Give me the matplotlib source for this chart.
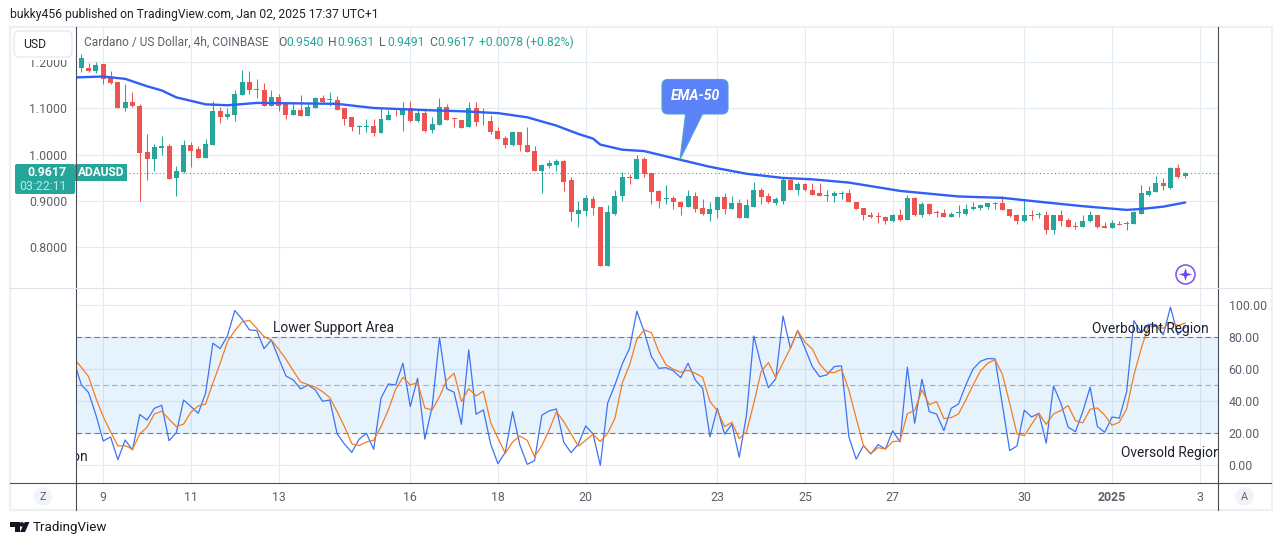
import matplotlib
matplotlib.use('Agg')
import matplotlib.pyplot as plt
from matplotlib.patches import FancyBboxPatch, Polygon, Circle, Rectangle

plt.rcParams['font.family'] = ['Roboto', 'DejaVu Sans']

# 4h candles
opens = [1.187, 1.188, 1.182, 1.195, 1.165, 1.158, 1.102, 1.115, 1.106, 1.005, 0.990, 1.014, 1.020, 0.949, 0.963, 1.022,
         1.012, 0.994, 1.022, 1.095, 1.081, 1.087, 1.130, 1.158, 1.141, 1.141, 1.106, 1.124, 1.109, 1.087, 1.096, 1.083,
         1.102, 1.122, 1.118, 1.119, 1.100, 1.081, 1.060, 1.061, 1.063, 1.048, 1.076, 1.087, 1.085, 1.100, 1.072, 1.091,
         1.053, 1.065, 1.104, 1.079, 1.076, 1.059, 1.100, 1.072, 1.074, 1.052, 1.037, 1.022, 1.050, 1.022, 1.009, 0.966,
         0.975, 0.979, 0.986, 0.945, 0.873, 0.878, 0.904, 0.888, 0.759, 0.873, 0.910, 0.951, 0.947, 0.990, 0.960, 0.921,
         0.904, 0.906, 0.899, 0.888, 0.912, 0.886, 0.873, 0.880, 0.908, 0.882, 0.895, 0.863, 0.888, 0.925, 0.910, 0.895,
         0.901, 0.945, 0.923, 0.936, 0.925, 0.917, 0.911, 0.910, 0.915, 0.917, 0.899, 0.886, 0.871, 0.866, 0.865, 0.858,
         0.869, 0.860, 0.906, 0.871, 0.893, 0.876, 0.875, 0.865, 0.875, 0.873, 0.882, 0.886, 0.888, 0.894, 0.895, 0.882,
         0.869, 0.856, 0.871, 0.871, 0.869, 0.837, 0.869, 0.860, 0.847, 0.843, 0.856, 0.869, 0.847, 0.841, 0.850, 0.851,
         0.850, 0.873, 0.914, 0.919, 0.940, 0.929, 0.971, 0.9540]
highs = [1.218, 1.199, 1.201, 1.195, 1.180, 1.158, 1.152, 1.135, 1.109, 1.044, 1.024, 1.040, 1.024, 0.975, 1.031, 1.027,
         1.020, 1.035, 1.117, 1.104, 1.100, 1.141, 1.184, 1.180, 1.163, 1.156, 1.139, 1.132, 1.112, 1.109, 1.130, 1.112,
         1.124, 1.130, 1.135, 1.126, 1.102, 1.081, 1.065, 1.078, 1.078, 1.100, 1.096, 1.096, 1.113, 1.117, 1.096, 1.097,
         1.081, 1.122, 1.109, 1.080, 1.076, 1.113, 1.113, 1.100, 1.085, 1.061, 1.040, 1.052, 1.050, 1.059, 1.018, 0.981,
         0.988, 0.990, 0.988, 0.951, 0.901, 0.914, 0.910, 0.888, 0.891, 0.923, 0.962, 0.959, 0.999, 0.996, 0.960, 0.923,
         0.934, 0.910, 0.901, 0.925, 0.919, 0.904, 0.899, 0.910, 0.917, 0.910, 0.904, 0.904, 0.942, 0.929, 0.917, 0.908,
         0.951, 0.949, 0.942, 0.940, 0.940, 0.940, 0.923, 0.921, 0.921, 0.927, 0.899, 0.886, 0.876, 0.876, 0.867, 0.873,
         0.882, 0.914, 0.908, 0.897, 0.895, 0.880, 0.882, 0.876, 0.891, 0.893, 0.899, 0.891, 0.895, 0.899, 0.910, 0.882,
         0.873, 0.904, 0.880, 0.876, 0.878, 0.871, 0.880, 0.863, 0.854, 0.871, 0.878, 0.869, 0.854, 0.860, 0.858, 0.856,
         0.878, 0.934, 0.932, 0.955, 0.949, 0.973, 0.981, 0.9631]
lows = [1.178, 1.178, 1.176, 1.152, 1.153, 1.100, 1.094, 1.104, 0.901, 0.945, 0.966, 0.999, 0.947, 0.910, 0.960, 0.973,
        0.994, 0.994, 1.022, 1.068, 1.078, 1.074, 1.130, 1.132, 1.122, 1.106, 1.106, 1.094, 1.078, 1.085, 1.083, 1.083,
        1.102, 1.109, 1.106, 1.096, 1.065, 1.052, 1.044, 1.050, 1.040, 1.048, 1.076, 1.083, 1.052, 1.070, 1.070, 1.050,
        1.048, 1.065, 1.076, 1.061, 1.057, 1.059, 1.063, 1.065, 1.044, 1.035, 1.014, 1.018, 1.009, 1.007, 0.964, 0.917,
        0.972, 0.964, 0.921, 0.856, 0.845, 0.867, 0.871, 0.759, 0.759, 0.869, 0.901, 0.936, 0.947, 0.951, 0.893, 0.886,
        0.893, 0.882, 0.869, 0.888, 0.876, 0.871, 0.858, 0.863, 0.873, 0.882, 0.863, 0.863, 0.888, 0.893, 0.895, 0.891,
        0.893, 0.923, 0.914, 0.921, 0.914, 0.910, 0.901, 0.899, 0.904, 0.897, 0.882, 0.860, 0.863, 0.852, 0.850, 0.854,
        0.856, 0.860, 0.867, 0.865, 0.869, 0.865, 0.865, 0.865, 0.865, 0.871, 0.880, 0.880, 0.882, 0.884, 0.880, 0.865,
        0.850, 0.854, 0.860, 0.863, 0.828, 0.828, 0.847, 0.845, 0.839, 0.843, 0.854, 0.841, 0.841, 0.841, 0.848, 0.837,
        0.850, 0.873, 0.910, 0.919, 0.923, 0.927, 0.949, 0.9491]
closes = [1.210, 1.182, 1.194, 1.163, 1.156, 1.101, 1.114, 1.105, 1.003, 0.990, 1.016, 1.020, 0.947, 0.965, 1.022, 1.009,
          0.994, 1.024, 1.095, 1.081, 1.089, 1.132, 1.158, 1.139, 1.140, 1.106, 1.124, 1.106, 1.087, 1.096, 1.083, 1.104,
          1.122, 1.115, 1.119, 1.096, 1.078, 1.059, 1.061, 1.062, 1.046, 1.078, 1.087, 1.085, 1.100, 1.072, 1.091, 1.052,
          1.067, 1.104, 1.076, 1.078, 1.058, 1.100, 1.070, 1.074, 1.050, 1.035, 1.022, 1.050, 1.022, 1.007, 0.966, 0.977,
          0.983, 0.986, 0.942, 0.876, 0.880, 0.906, 0.886, 0.759, 0.876, 0.912, 0.951, 0.949, 0.990, 0.958, 0.919, 0.901,
          0.906, 0.897, 0.888, 0.912, 0.884, 0.873, 0.882, 0.908, 0.882, 0.895, 0.863, 0.891, 0.925, 0.908, 0.897, 0.904,
          0.945, 0.923, 0.936, 0.923, 0.914, 0.910, 0.912, 0.917, 0.917, 0.897, 0.883, 0.869, 0.865, 0.865, 0.858, 0.869,
          0.860, 0.906, 0.871, 0.893, 0.873, 0.875, 0.865, 0.873, 0.876, 0.882, 0.888, 0.891, 0.895, 0.895, 0.880, 0.867,
          0.856, 0.871, 0.867, 0.872, 0.837, 0.869, 0.858, 0.845, 0.843, 0.856, 0.869, 0.845, 0.841, 0.852, 0.848, 0.853,
          0.876, 0.917, 0.921, 0.940, 0.932, 0.971, 0.953, 0.9617]

ema_bars = [-1, 3, 6, 9, 11, 13, 17, 20, 24, 30, 35, 40, 48, 52, 57, 61, 63, 65, 68, 70, 71, 74, 77, 82, 86, 91, 96, 100,
            105, 112, 120, 126, 132, 137, 143, 145, 148, 151]
ema_vals = [1.167, 1.169, 1.164, 1.148, 1.139, 1.124, 1.109, 1.107, 1.112, 1.111, 1.110, 1.101, 1.096, 1.094, 1.090,
            1.081, 1.072, 1.063, 1.045, 1.035, 1.022, 1.011, 1.008, 0.989, 0.974, 0.959, 0.950, 0.947, 0.940, 0.922,
            0.910, 0.907, 0.897, 0.889, 0.881, 0.883, 0.888, 0.897]

# stochastic, first value sits just left of the axis
stoch_k = [65, 50.4, 45.4, 31.5, 15.2, 17.7, 3.5, 15.8, 9.6, 31.7, 28.3, 35.6, 37.5, 15.4, 20.4, 40.8, 36.7, 32.5, 45,
           76.3, 72.9, 81, 96.7, 91.3, 84.6, 84.2, 72.9, 78.3, 66.9, 55.8, 53.3, 47.7, 50.2, 47.1, 40, 40.8, 19.6, 13.3,
           8.1, 16.3, 20, 10, 41.9, 50.8, 50.2, 63.8, 36.7, 54.4, 16.3, 36.7, 79.8, 47.9, 45.6, 25.6, 72.1, 31.9, 34.6,
           13.3, 1, 8.1, 33.5, 12.7, 0.6, 2.9, 31.3, 34, 35.2, 14.4, 7.9, 13.3, 24.6, 19.6, 0, 38.8, 50.2, 63.3, 73.1,
           96.3, 83.5, 67.9, 60.6, 61, 59, 54.8, 63.8, 53.3, 48.1, 17.7, 35.6, 19.4, 25.8, 5, 31.5, 80.8, 62.7, 48.5, 54,
           93.3, 73.1, 84.2, 73.1, 61.7, 55.4, 56.5, 61.7, 62.1, 17.9, 3.8, 12.3, 7.1, 12.9, 10.2, 21.5, 14.6, 61.3, 26.3,
           53.8, 33.5, 32, 21.7, 35.6, 38.3, 50.2, 60.2, 65, 66.7, 66.5, 37.7, 9.2, 12.1, 34.4, 30.2, 32.5, 13.8, 49.6,
           38.8, 23.8, 21, 33.5, 48.8, 24.2, 20.6, 30.2, 29.4, 46, 90.4, 82.9, 88.1, 87.9, 81.5, 98.8, 81.5, 86.3]
stoch_d = [66.5, 61.3, 55.4, 41.9, 30.4, 21, 12.1, 12.3, 10, 19.6, 23.8, 32.1, 33.8, 28.8, 24.2, 25.8, 33.3, 37.1, 38.3,
           51.3, 63.8, 77.3, 84.2, 89.6, 90.6, 85.6, 80.4, 78.3, 72.5, 66.3, 59, 52.1, 50.4, 48.8, 46, 42.3, 33.5, 24.2,
           13.5, 12.3, 14.6, 15.6, 24.2, 34.6, 47.5, 55, 50.2, 51.7, 35.8, 34.6, 42.9, 53.3, 57.5, 39.8, 47.9, 43.3, 46.3,
           26.7, 16.9, 7.5, 14.6, 18.3, 15.6, 5.4, 12.3, 22, 33.5, 27.3, 19.6, 11.9, 15.6, 19.4, 14.8, 20, 29.4, 51.3, 62.7,
           78.8, 84.6, 82.9, 71, 62.7, 60, 58.1, 59.4, 57.5, 55, 39.8, 34.2, 24.2, 26.9, 16.7, 21, 38.8, 58.5, 64.2, 54.8,
           64.2, 73.1, 84.2, 76.9, 72.7, 63.3, 58.1, 57.9, 60, 47.1, 29.4, 12.3, 7.3, 11, 10.2, 14.8, 15.2, 32.3, 34.2,
           47.1, 37.9, 39.8, 29.2, 29.8, 32.1, 40.8, 50.2, 59, 63.8, 66, 56.9, 38.8, 19.6, 18.5, 25.6, 32.5, 25.6, 32.1,
           34.2, 37.3, 27.9, 26.5, 35, 35.8, 31.3, 25, 26.9, 35.2, 56.5, 73.1, 87.1, 86.7, 85.6, 89.4, 87.3, 88.8]

date_bars = [3, 15, 27, 45, 57, 69, 87, 99, 111, 129, 141, 153]
date_labels = ['9', '11', '13', '16', '18', '20', '23', '25', '27', '30', '2025', '3']
price_ticks = [0.8, 0.9, 1.0, 1.1, 1.2]
stoch_ticks = [0, 20, 40, 60, 80, 100]
last_price = 0.9617

GREEN = '#26a69a'
RED = '#ef5350'
GRID = '#e3ebf2'
AXIS = '#4a4c57'
LABEL = '#5d606b'

W, H = 1281, 545
fig = plt.figure(figsize=(W / 100, H / 100), dpi=100, facecolor='white')


def pane(left, top, right, bottom):
    return fig.add_axes([left / W, 1 - bottom / H, (right - left) / W, (bottom - top) / H])


ax1 = pane(75.5, 27.5, 1217.5, 287.5)
ax2 = pane(75.5, 287.5, 1217.5, 482.5)
xlim = (-0.793, 155.43)

for ax in (ax1, ax2):
    ax.set_xlim(*xlim)
    ax.set_xticks(date_bars)
    ax.grid(True, color=GRID, lw=0.8)
    ax.set_axisbelow(True)
    for s in ax.spines.values():
        s.set_visible(False)
    ax.tick_params(length=0, labelsize=8.9, labelcolor=LABEL)

# price pane
ax1.set_ylim(0.7134, 1.2749)
ax1.set_yticks(price_ticks)
ax1.set_yticklabels(['%.4f' % p for p in price_ticks])
ax1.tick_params(axis='y', pad=6)
ax1.tick_params(axis='x', labelbottom=False)

bars = list(range(len(opens)))
colors = [GREEN if c >= o else RED for o, c in zip(opens, closes)]
ax1.vlines(bars, lows, highs, colors=colors, lw=0.75, zorder=3)
bodies = [max(abs(c - o), 0.0018) for o, c in zip(opens, closes)]
ax1.bar(bars, bodies, bottom=[min(o, c) for o, c in zip(opens, closes)], width=0.68, color=colors, lw=0, zorder=3)
ax1.plot(ema_bars, ema_vals, color='#2f5ff5', lw=1.7, zorder=4, solid_capstyle='round')
ax1.axhline(last_price, color=GREEN, lw=0.8, ls=(0, (1, 2.4)), zorder=2)

# stochastic pane
ax2.set_ylim(-10.75, 111.1)
ax2.yaxis.tick_right()
ax2.set_yticks(stoch_ticks)
ax2.set_yticklabels(['%.2f' % v for v in stoch_ticks])
ax2.tick_params(axis='y', pad=8)
ax2.set_xticklabels(date_labels)
ax2.tick_params(axis='x', pad=6)
ax2.get_xticklabels()[10].set_fontweight('bold')
ax2.axhspan(20, 80, color='#2196f3', alpha=0.11, lw=0, zorder=1)
ax2.axhline(80, color='#787b86', lw=0.8, ls=(0, (5, 3)), zorder=2)
ax2.axhline(50, color='#a9acb5', lw=0.8, ls=(0, (5, 3)), zorder=2)
ax2.axhline(20, color='#787b86', lw=0.8, ls=(0, (5, 3)), zorder=2)
k_bars = list(range(-1, len(stoch_k) - 1))
ax2.plot(k_bars, stoch_k, color='#3f72f2', lw=0.9, zorder=3)
ax2.plot(k_bars, stoch_d, color='#f57c1f', lw=0.9, zorder=4)

# overlay in picture pixels for the TradingView chrome
ov = fig.add_axes([0, 0, 1, 1], zorder=10)
ov.set_xlim(0, W)
ov.set_ylim(H, 0)
ov.axis('off')
ov.patch.set_alpha(0)

ov.add_patch(Rectangle((10, 27), 1261.5, 482.5, fill=False, ec='#eef0f4', lw=1.6))
ov.plot([75.5, 75.5], [27, 510], color=AXIS, lw=0.8)
ov.plot([1217.5, 1217.5], [27, 510], color=AXIS, lw=0.8)
ov.plot([10, 1271], [482.5, 482.5], color=AXIS, lw=0.8)
ov.plot([10, 1271], [287.5, 287.5], color='#e0e3eb', lw=0.8)

ov.text(10, 14.5, 'bukky456 published on TradingView.com, Jan 02, 2025 17:37 UTC+1', fontsize=8.7, color='#1e222d',
        va='center')
# the USD button hides the top of the 1.2000 label
ov.add_patch(Rectangle((14, 31), 58, 28.5, fc='white', lw=0))
ov.add_patch(FancyBboxPatch((17, 34), 52, 20, boxstyle='round,pad=3,rounding_size=5', fc='white', ec='#e6e8ee', lw=0.9))
ov.text(34.5, 44.5, 'USD', fontsize=8.7, color='#1e222d', ha='center', va='center')

ov.text(84, 42, 'Cardano / US Dollar, 4h, COINBASE', fontsize=8.6, color=LABEL, va='center')
for x, letter, x2, val in [(278, 'O', 286, '0.9540'), (328, 'H', 337, '0.9631'), (379, 'L', 387, '0.9491'),
                           (429, 'C', 437, '0.9617')]:
    ov.text(x, 42, letter, fontsize=8.7, color=LABEL, va='center')
    ov.text(x2, 42, val, fontsize=8.7, color=GREEN, va='center')
ov.text(479, 42, '+0.0078 (+0.82%)', fontsize=8.7, color=GREEN, va='center')

# last price tags
ov.add_patch(FancyBboxPatch((17, 166), 56, 26, boxstyle='round,pad=2,rounding_size=2', fc=GREEN, lw=0))
ov.add_patch(Rectangle((75, 164), 52, 17, fc=GREEN, lw=0))
ov.text(67, 172, '%.4f' % last_price, fontsize=8.9, color='white', fontweight='bold', ha='right', va='center')
ov.text(67, 186.5, '03:22:11', fontsize=8.9, color='#bfe5e1', ha='right', va='center')
ov.text(101, 172.5, 'ADAUSD', fontsize=8.6, color='white', fontweight='bold', ha='center', va='center')

# callout
ov.add_patch(Polygon([(685.7, 113), (703, 113), (680, 159.5)], fc='#5b82f8', ec='#4fa3c9', lw=0.8))
ov.add_patch(FancyBboxPatch((667, 84.5), 56, 24.5, boxstyle='round,pad=5,rounding_size=6', fc='#5b82f8', ec='#4fa3c9',
                            lw=0.8))
ov.add_patch(Polygon([(686.5, 113), (702, 113), (700, 116), (687, 116)], fc='#5b82f8', lw=0))
ov.text(695, 96.5, 'EMA-50', fontsize=10, color='white', style='italic', fontweight='bold', ha='center', va='center')

# sparkle button
ov.add_patch(Circle((1185.5, 274.5), 9.5, fc='white', ec='#8558f5', lw=1.2))
ov.add_patch(Polygon([(1185.5, 268), (1187, 273), (1192, 274.5), (1187, 276), (1185.5, 281), (1184, 276), (1179, 274.5),
                      (1184, 273)], fc='#6f45ee', lw=0))

# labels inside the stochastic pane
t_kw = dict(fontsize=9.9, color='#1e222d', va='center', clip_on=True)
ax2.text(-0.793 + (273 - 75.5) / 7.31, (465.3 - 328.5) / 1.6, 'Lower Support Area', zorder=6, **t_kw)
ax2.text(-0.793 + (1092 - 75.5) / 7.31, (465.3 - 329.5) / 1.6, 'Overbought Region', zorder=6, **t_kw)
ax2.text(-0.793 + (1121 - 75.5) / 7.31, (465.3 - 453.5) / 1.6, 'Oversold Region', zorder=6, **t_kw)
ax2.text(-0.793 + (88 - 75.5) / 7.31, (465.3 - 457.5) / 1.6, 'Oversold Region', zorder=6, ha='right', **t_kw)

# Z and A buttons
for x, s in [(43, 'Z'), (1244.7, 'A')]:
    ov.add_patch(Circle((x, 496.5), 9.3, fc='#f0f3fa', lw=0))
    ov.text(x, 497, s, fontsize=7.8, color=LABEL, ha='center', va='center')

# TradingView logo
ov.add_patch(Polygon([(10, 522), (19.5, 522), (19.5, 532), (15, 532), (15, 527), (10, 527)], fc='#131722', lw=0))
ov.add_patch(Circle((21.8, 524.4), 2.3, fc='#131722', lw=0))
ov.add_patch(Polygon([(24.8, 522), (29.5, 522), (25, 532), (20, 532)], fc='#131722', lw=0))
ov.text(33, 527.5, 'TradingView', fontsize=9.6, color='#131722', va='center')

fig.savefig('out.png', dpi=100, facecolor='white')
